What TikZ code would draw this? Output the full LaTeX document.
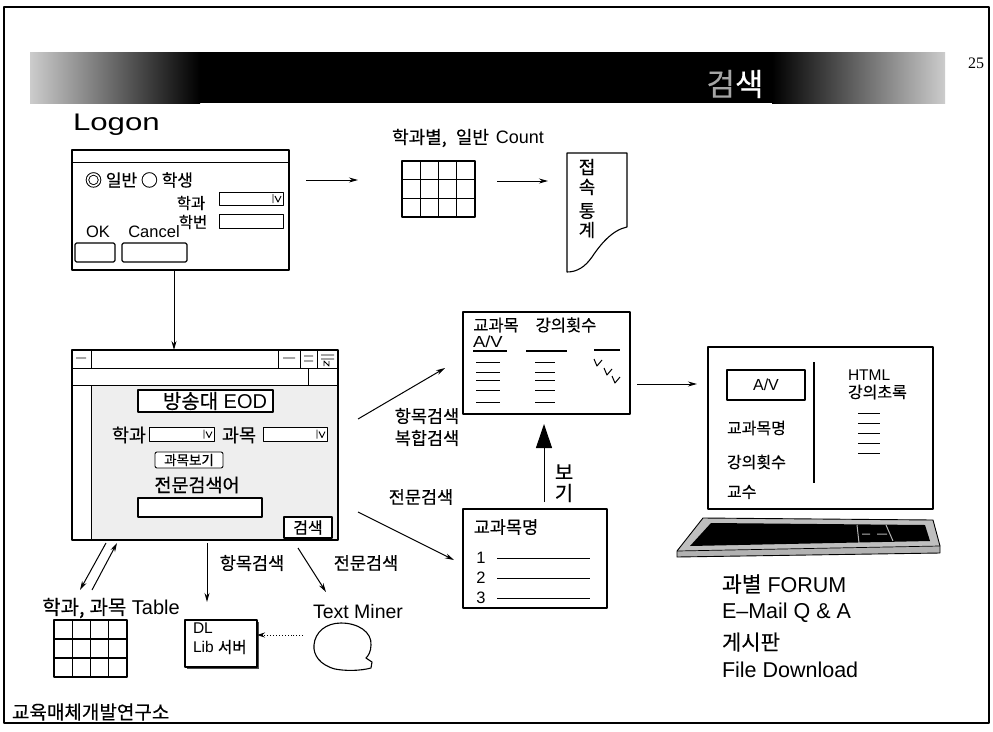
\documentclass[tikz,border=0pt]{standalone}
\usepackage{fontspec}
\setmainfont{Liberation Sans}
\newfontfamily\kr[FakeBold=0.4]{Noto Sans CJK KR}
\newfontfamily\serifnum{Liberation Serif}
\usetikzlibrary{arrows.meta}
\newcommand\setfs[1]{\fontsize{#1}{#1}\selectfont}

\begin{document}
\begin{tikzpicture}[x=1pt,y=-1pt,
  line join=round,
  panel/.style={draw, line width=1.1pt, inner sep=0pt, outer sep=0pt, anchor=north west},
  arr/.style={line width=1pt, -{Stealth[length=9pt,width=5pt]}},
  lbl/.style={inner sep=0pt, outer sep=0pt},
  lblw/.style={inner sep=0pt, outer sep=0pt, anchor=west},
  ddmark/.pic={\draw[line width=0.9pt] (-10,-4.5)--(-10,4.5) (-8,-2.5)--(-5,3.5)--(-2,-2.5);},
]
\useasboundingbox (0,0) rectangle (993,731);
\fill[white] (0,0) rectangle (993,731);

% page frame
\draw[line width=1.3pt] (4,7) rectangle (989,723);

% title banner
\fill[black] (30,52) rectangle (945,103);
\shade[left color=gray!40, right color=black] (30,52) rectangle (200,103);
\shade[left color=black, right color=gray!40] (772,52) rectangle (945,103);
\node[lbl, text=white, font=\kr\setfs{31}] (title) at (735,84) {{\color{gray!70}검}색};
\node[lbl, font=\serifnum\setfs{16}] (pageno) at (976,63) {25};

% ---------- logon dialog ----------
\node[lblw, font=\setfs{24}, xscale=1.3, transform shape] (logonlbl) at (73,125) {Logon};
\node[panel, minimum width=217pt, minimum height=120pt] (logonwin) at (72,150) {};
\draw[line width=1pt] (72,162) -- (289,162);
\node[lbl, font=\kr\setfs{17}] (radio) at (139,180) {◎ 일반 ○ 학생};
\node[lbl, font=\kr\setfs{15.5}] (hakgwa1) at (191,203) {학과};
\node[panel, line width=0.9pt, minimum width=64pt, minimum height=13pt] (dept1) at (219,192) {};
\pic at (dept1.east) {ddmark};
\node[lbl, font=\kr\setfs{15.5}] (hakbun) at (193,222) {학번};
\node[panel, line width=0.9pt, minimum width=64pt, minimum height=14pt] (idbox) at (219,214) {};
\node[lbl, font=\setfs{16.5}] (oklbl) at (98,232) {OK};
\node[lbl, font=\setfs{16.5}] (cancellbl) at (154,232) {Cancel};
\node[panel, rounded corners=1.5pt, minimum width=40pt, minimum height=19pt] (okbtn) at (75,243) {};
\node[panel, rounded corners=1.5pt, minimum width=65pt, minimum height=19pt] (cancelbtn) at (122,243) {};

% ---------- access counting ----------
\node[lbl, font=\setfs{18}] (countlbl) at (468,138) {{\kr 학과별,}\hspace{9pt}{\kr 일반}\hspace{7pt}Count};
\node[panel, minimum width=73pt, minimum height=56pt] (countgrid) at (402,161) {};
\foreach \i in {1,2,3} \draw[line width=1.1pt] (402+\i*18.25,161) -- ++(0,56);
\foreach \j in {1,2} \draw[line width=1.1pt] (402,161+\j*18.67) -- ++(73,0);
\coordinate (a1s) at (306,180); \coordinate (a1e) at (358,180);
\draw[arr] (a1s) -- (a1e);
\coordinate (a2s) at (497,181); \coordinate (a2e) at (548,181);
\draw[arr] (a2s) -- (a2e);

% report document
\draw[line width=1.1pt] (567,153) -- (627,153) -- (627,227)
  .. controls (612,230) and (600,245) .. (592,257)
  .. controls (585,267) and (577,272) .. (567,272) -- cycle;
\node[lbl, font=\kr\setfs{18}] (rep1) at (587,167) {접};
\node[lbl, font=\kr\setfs{18}] (rep2) at (587,187) {속};
\node[lbl, font=\kr\setfs{18}] (rep3) at (587,211) {통};
\node[lbl, font=\kr\setfs{18}] (rep4) at (587,230) {계};

% ---------- EOD search window ----------
\fill[gray!13] (91,385) rectangle (338,540);
\node[panel, minimum width=266pt, minimum height=190pt] (eodwin) at (72,350) {};
\draw[line width=1pt] (72,368) -- (338,368) (72,385) -- (338,385)
  (91,350) -- (91,368) (91,385) -- (91,540)
  (278,350) -- (278,368) (300,350) -- (300,368) (317,350) -- (317,368)
  (308,368) -- (308,385);
\draw[line width=0.9pt] (76,358) -- (86,358) (283,358) -- (295,358)
  (304,356) -- (313,356) (304,361) -- (313,361)
  (321,355) -- (334,355) (321,359) -- (334,359)
  (324,366) -- (324,361) -- (329,366) -- (329,361);

\node[panel, fill=white, minimum width=135pt, minimum height=22pt] (eodtitle) at (138,390) {};
\node[lbl, font=\setfs{20}] (eodtext) at (215,401) {{\kr 방송대} EOD};
\node[lbl, font=\kr\setfs{18.5}] (deptlbl) at (129,435) {학과};
\node[panel, fill=white, line width=0.9pt, minimum width=65pt, minimum height=14pt] (dept2) at (149,427) {};
\pic at (dept2.east) {ddmark};
\node[lbl, font=\kr\setfs{18.5}] (subjlbl) at (239,435) {과목};
\node[panel, fill=white, line width=0.9pt, minimum width=64pt, minimum height=14pt] (subj) at (263,427) {};
\pic at (subj.east) {ddmark};
\node[panel, fill=white, rounded corners=2pt, line width=0.9pt, minimum width=68pt, minimum height=16pt, font=\kr\setfs{13.5}] (viewbtn) at (155,452) {과목보기};
\node[lbl, font=\kr\setfs{18.5}] (kwlbl) at (197,485) {전문검색어};
\node[panel, fill=white, minimum width=124pt, minimum height=19pt] (kwbox) at (138,498) {};
\node[panel, fill=white, line width=1.3pt, minimum width=48pt, minimum height=21pt, font=\kr\setfs{16}] (searchbtn) at (284,517) {검색};

% logon -> search window
\draw[arr] ([xshift=-6.5pt]logonwin.south) -- ([xshift=-31pt]eodwin.north);

% ---------- result list ----------
\node[panel, minimum width=167pt, minimum height=102pt] (listbox) at (463,312) {};
\node[lbl, font=\kr\setfs{16.5}] (colsubj) at (496,325) {교과목};
\node[lbl, font=\kr\setfs{16.5}] (colcnt) at (566,325) {강의횟수};
\node[lblw, font=\setfs{16}, xscale=1.15, transform shape] (avlbl) at (473,342) {A/V};
\draw[line width=1.2pt] (473,351) -- (507,351) (526,351) -- (567,351) (594,350) -- (620,350);
\foreach \yy in {362,372,380,390,402}
  \draw[line width=1pt] (476,\yy) -- (500,\yy) (535,\yy) -- (555,\yy);
\foreach \cx/\cy in {597/363,607/372,615/380}
  \draw[line width=1pt] (\cx-3,\cy-4) -- (\cx,\cy+3) -- (\cx+5,\cy-3);

\coordinate (b1s) at (358,419); \coordinate (b1e) at (445,368);
\draw[arr] (b1s) -- (b1e);
\node[lbl, font=\kr\setfs{17.5}] (q1) at (427,416) {항목검색};
\node[lbl, font=\kr\setfs{17.5}] (q2) at (427,438) {복합검색};
\coordinate (b2s) at (358,512); \coordinate (b2e) at (454,560);
\draw[arr] (b2s) -- (b2e);
\node[lbl, font=\kr\setfs{17.5}] (q3) at (421,497) {전문검색};

% ---------- full-text result list ----------
\node[panel, minimum width=144pt, minimum height=99pt] (namebox) at (463,509) {};
\node[lbl, font=\kr\setfs{17.5}] (namehdr) at (506,527) {교과목명};
\foreach \n/\yy in {1/558,2/578,3/598} {
  \node[lbl, font=\setfs{16.5}] (row\n) at (481,\yy) {\n};
  \draw[line width=1pt] (497,\yy) -- (590,\yy);
}
\coordinate (c1s) at (544,502); \coordinate (c1e) at (544,424);
\draw[line width=1pt, -{Triangle[length=24pt,width=16pt]}] (c1s) -- (c1e);
\node[lbl, font=\kr\setfs{20}] (see1) at (564,472) {보};
\node[lbl, font=\kr\setfs{20}] (see2) at (564,493) {기};

% ---------- lecture viewer (monitor) ----------
\node[panel, line width=1.3pt, minimum width=225pt, minimum height=162pt] (monitor) at (708,347) {};
\coordinate (d1s) at (637,384); \coordinate (d1e) at (697,384);
\draw[arr] (d1s) -- (d1e);
\node[panel, minimum width=78pt, minimum height=30pt, font=\setfs{16}] (avbox) at (727,370) {A/V};
\draw[line width=1.1pt] (814,362) -- (814,483);
\node[lblw, font=\kr\setfs{16}] (m1) at (727,428) {교과목명};
\node[lblw, font=\kr\setfs{16}] (m2) at (727,462) {강의횟수};
\node[lblw, font=\kr\setfs{16}] (m3) at (727,492) {교수};
\node[lblw, font=\setfs{15.5}] (m4) at (848,375) {HTML};
\node[lblw, font=\kr\setfs{16}] (m5) at (848,392) {강의초록};
\foreach \yy in {413,423,433,443,453} \draw[line width=1pt] (858,\yy) -- (880,\yy);

% keyboard
\fill[gray!50] (703,518) -- (933,520) -- (940,546) -- (677,551) -- cycle;
\fill[black] (711,523) -- (925,525) -- (930,541) -- (690,546) -- cycle;
\fill[gray!60] (677,551) -- (940,546) -- (940,553) -- (677,557) -- cycle;
\draw[line width=0.9pt] (703,518) -- (933,520) -- (940,546) -- (940,553) -- (677,557) -- (677,551) -- cycle;
\draw[line width=0.7pt] (677,551) -- (940,546);
\draw[gray!60, line width=1pt] (857,525) -- (859,543) (862,534) -- (870,534)
  (877,534) -- (887,534) (886,525) -- (893,541);

\node[lblw, font=\setfs{21.5}] (s1) at (722,584) {{\kr 과별} FORUM};
\node[lblw, font=\setfs{21.5}] (s2) at (722,613) {E–Mail Q \& A};
\node[lblw, font=\kr\setfs{21}] (s3) at (722,642) {게시판};
\node[lblw, font=\setfs{21.5}] (s4) at (722,670) {File Download};

% ---------- back-end ----------
\draw[line width=1pt, -{Stealth[length=9pt,width=5pt]}] (106,543) -- (80,590);
\draw[line width=1pt, -{Stealth[length=9pt,width=5pt]}] (92,590) -- (117,543);
\coordinate (e1s) at (207,543); \coordinate (e1e) at (207,602);
\draw[arr] (e1s) -- (e1e);
\node[lbl, font=\kr\setfs{17.5}] (q4) at (252,563) {항목검색};
\coordinate (e2s) at (298,548); \coordinate (e2e) at (326,592);
\draw[arr] (e2s) -- (e2e);
\node[lbl, font=\kr\setfs{17.5}] (q5) at (366,563) {전문검색};

\node[lbl, font=\setfs{20}] (tablelbl) at (111,608) {{\kr 학과,}\hspace{5pt}{\kr 과목} Table};
\node[panel, minimum width=73pt, minimum height=57pt] (tablegrid) at (54,620) {};
\foreach \i in {1,2,3} \draw[line width=1.1pt] (54+\i*18.25,620) -- ++(0,57);
\foreach \j in {1,2} \draw[line width=1.1pt] (54,620+\j*19) -- ++(73,0);

\fill[black!70] (187,622) rectangle (259,669);
\node[panel, fill=white, minimum width=72pt, minimum height=47pt] (dlbox) at (185,620) {};
\node[lblw, font=\setfs{15.5}] (dl1) at (193,628) {DL};
\node[lblw, font=\setfs{15.5}] (dl2) at (193,647) {Lib {\kr 서버}};

\node[lbl, font=\setfs{19.5}] (minerlbl) at (358,612) {Text Miner};
\draw[line width=1.1pt] (341,623) .. controls (358,623) and (372,632) .. (371,645)
  .. controls (371,652) and (368,656) .. (366,658) -- (372,662) -- (371,668)
  .. controls (360,671) and (345,671) .. (335,669)
  .. controls (320,665) and (313,655) .. (314,645)
  .. controls (315,632) and (326,623) .. (341,623) -- cycle;
\coordinate (miner) at (303,635);
\draw[line width=0.9pt, dotted, -{Stealth[length=8pt,width=5pt]}] (miner) -- (dlbox.east |- miner);

% footer
\node[lblw, font=\kr\setfs{19}] (footer) at (12,712) {교육매체개발연구소};
\end{tikzpicture}
\end{document}
